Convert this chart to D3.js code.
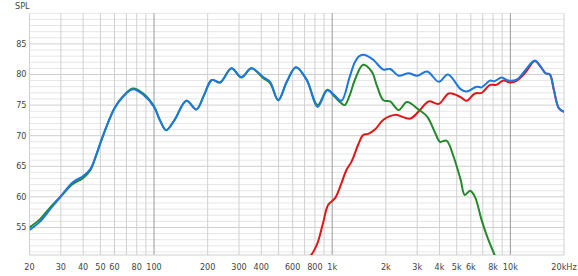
<!DOCTYPE html>
<html>
<head>
<meta charset="utf-8">
<script src="https://cdn.jsdelivr.net/npm/d3@7"></script>
<style>
	html, body { margin: 0; padding: 0; background: #ffffff; }
	svg { display: block; }
	text { font-family: "Liberation Sans Narrow", "DejaVu Sans Condensed", "Roboto", sans-serif; fill: #444; }
</style>
</head>
<body>
<svg id="plot" width="578" height="276"></svg>
<script>
/* frequency response data */
const BLUE_F = [20, 23, 26, 30, 35, 40, 44, 47, 50, 55, 60, 67, 76, 87, 100, 108, 117, 130, 152, 173, 190, 211, 235, 272, 309, 352, 410, 448, 498, 556, 626, 720, 828, 938, 1030, 1126, 1250, 1340, 1420, 1527, 1700, 1938, 2116, 2358, 2686, 2998, 3412, 3966, 4464, 5258, 5670, 6454, 6900, 7678, 8130, 8940, 9750, 10880, 12130, 13700, 14760, 15760, 16650, 17540, 18700, 20000];
const BLUE_DB = [54.6, 56.0, 57.9, 60.1, 62.4, 63.4, 64.6, 66.6, 68.8, 72.0, 74.5, 76.4, 77.6, 76.7, 74.7, 72.5, 70.9, 72.5, 75.7, 74.3, 76.5, 79.1, 78.7, 81.0, 79.6, 81.0, 79.6, 78.8, 75.8, 78.8, 81.2, 79.1, 74.7, 77.4, 76.6, 75.7, 79.5, 82.0, 83.0, 83.2, 82.4, 80.8, 80.9, 79.8, 80.2, 79.8, 80.5, 78.8, 80.0, 77.6, 77.2, 78.0, 77.9, 79.0, 78.9, 79.5, 79.0, 79.2, 80.7, 82.3, 81.3, 80.2, 80.0, 77.5, 74.5, 73.9];

const GREEN_F = [20, 23, 26, 30, 35, 40, 44, 47, 50, 55, 60, 67, 76, 87, 100, 108, 117, 130, 152, 173, 190, 211, 235, 272, 309, 352, 410, 448, 498, 556, 626, 720, 828, 938, 1030, 1126, 1176, 1250, 1340, 1492, 1664, 1790, 1938, 2116, 2358, 2628, 3046, 3412, 3792, 4024, 4380, 4796, 5258, 5552, 5940, 6326, 6900, 7520, 8300, 9000];
const GREEN_DB = [55.0, 56.4, 58.2, 60.1, 62.1, 63.1, 64.4, 66.5, 68.8, 72.0, 74.5, 76.4, 77.7, 76.9, 74.8, 72.5, 70.9, 72.5, 75.7, 74.3, 76.5, 79.1, 78.7, 81.0, 79.5, 81.0, 79.4, 78.6, 75.8, 78.8, 81.2, 79.1, 75.0, 77.5, 76.4, 75.3, 75.0, 76.5, 79.1, 81.6, 80.5, 78.0, 75.8, 75.6, 74.2, 75.5, 74.3, 73.1, 70.4, 69.0, 69.2, 66.6, 62.8, 60.3, 61.0, 60.0, 56.2, 53.0, 50.0, 47.5];

const RED_F = [650, 689, 744, 818, 888, 950, 1038, 1126, 1202, 1286, 1402, 1492, 1594, 1738, 1938, 2256, 2744, 3110, 3480, 3966, 4514, 5258, 5670, 6326, 6900, 7678, 8330, 9140, 10000, 10880, 12130, 13700, 14760, 15760, 16650, 17540, 18700, 20000];
const RED_DB = [49.5, 50.1, 50.2, 52.1, 55.7, 58.7, 59.8, 62.2, 64.4, 65.8, 68.6, 70.1, 70.3, 71.0, 72.6, 73.4, 72.8, 74.2, 75.6, 75.2, 76.9, 76.3, 75.7, 76.9, 77.0, 78.3, 78.3, 79.0, 78.7, 79.0, 80.3, 82.2, 81.3, 80.2, 80.0, 77.5, 74.5, 73.9];

/* axis ticks */
const X_GRID = [20, 30, 40, 50, 60, 70, 80, 90, 100, 200, 300, 400, 500, 600, 700, 800, 900, 1000, 2000, 3000, 4000, 5000, 6000, 7000, 8000, 9000, 10000, 20000];
const X_DECADES = [100, 1000, 10000];
const X_LABEL_VALUES = [20, 30, 40, 50, 60, 80, 100, 200, 300, 400, 600, 800, 1000, 2000, 3000, 4000, 5000, 6000, 8000, 10000, 20000];
const X_LABELS = ['20', '30', '40', '50', '60', '80', '100', '200', '300', '400', '600', '800', '1k', '2k', '3k', '4k', '5k', '6k', '8k', '10k', '20kHz'];
const Y_MAJOR = [55, 60, 65, 70, 75, 80, 85];
const Y_MINOR = d3.range(51, 91);

const svg = d3.select('#plot');

const x = d3.scaleLog().domain([20, 20000]).range([29.5, 564]);
const y = d3.scaleLinear().domain([50.5, 90]).range([255, 13.3]);

/* grid */
const grid = svg.append('g');
grid.selectAll('line.minor')
	.data(Y_MINOR.filter(d => Y_MAJOR.indexOf(d) < 0))
	.enter().append('line')
		.attr('x1', x(20)).attr('x2', x(20000))
		.attr('y1', d => y(d)).attr('y2', d => y(d))
		.style('stroke', '#e6e6e6').style('stroke-width', 1);
grid.selectAll('line.major')
	.data(Y_MAJOR)
	.enter().append('line')
		.attr('x1', x(20)).attr('x2', x(20000))
		.attr('y1', d => y(d)).attr('y2', d => y(d))
		.style('stroke', '#cfcfcf').style('stroke-width', 1);
grid.selectAll('line.vert')
	.data(X_GRID)
	.enter().append('line')
		.attr('x1', d => x(d)).attr('x2', d => x(d))
		.attr('y1', y(90)).attr('y2', y(50.5))
		.style('stroke', d => X_DECADES.indexOf(d) >= 0 ? '#9a9a9a' : '#d0d0d0')
		.style('stroke-width', 1);
grid.append('line')
	.attr('x1', x(20)).attr('x2', x(20000))
	.attr('y1', y(50.5)).attr('y2', y(50.5))
	.style('stroke', '#cfcfcf');

/* labels */
svg.append('text')
	.attr('x', 15).attr('y', 9)
	.style('font-size', '9px')
	.text('SPL');
svg.selectAll('text.ylab')
	.data(Y_MAJOR)
	.enter().append('text')
		.attr('x', 26.5)
		.attr('y', d => y(d) + 3)
		.attr('text-anchor', 'end')
		.style('font-size', '9px')
		.text(d => d);
svg.selectAll('text.xlab')
	.data(X_LABEL_VALUES)
	.enter().append('text')
		.attr('x', d => x(d))
		.attr('y', 270)
		.attr('text-anchor', 'middle')
		.style('font-size', '9px')
		.text((d, i) => X_LABELS[i]);

/* curves */
svg.append('clipPath').attr('id', 'clip')
	.append('rect')
		.attr('x', x(20)).attr('y', y(90))
		.attr('width', x(20000) - x(20)).attr('height', y(50.5) - y(90));

const line = d3.line()
	.x(d => x(d[0]))
	.y(d => y(d[1]))
	.curve(d3.curveCatmullRom.alpha(0.5));

const series = [
	{ f: RED_F, db: RED_DB, color: '#e01515' },
	{ f: GREEN_F, db: GREEN_DB, color: '#23892b' },
	{ f: BLUE_F, db: BLUE_DB, color: '#1c78e0' }
];
const curves = svg.append('g').attr('clip-path', 'url(#clip)');
series.forEach(s => {
	curves.append('path')
		.datum(s.f.map((f, i) => [f, s.db[i]]))
		.attr('d', line)
		.style('fill', 'none')
		.style('stroke', s.color)
		.style('stroke-width', 2);
});
</script>
</body>
</html>
